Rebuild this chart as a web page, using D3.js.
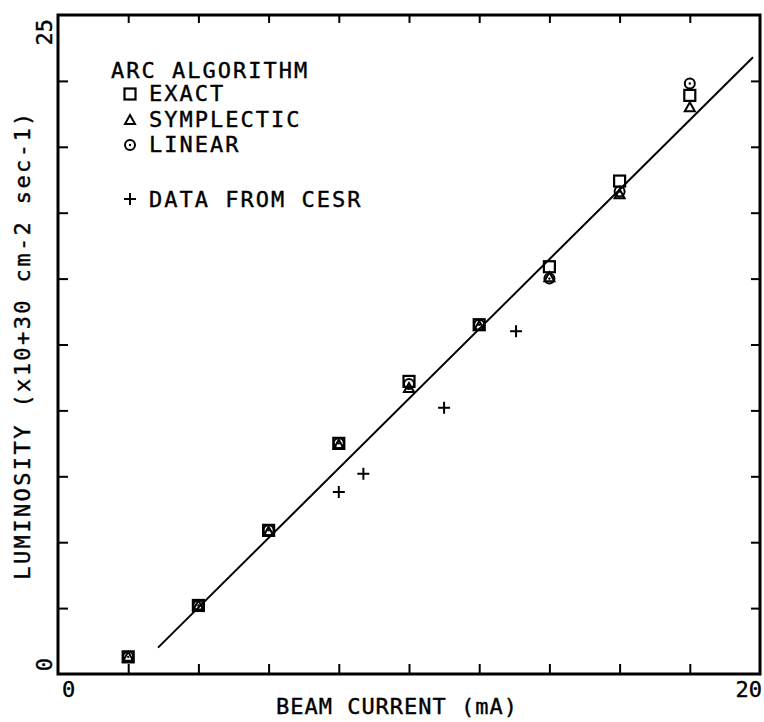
<!DOCTYPE html>
<html>
<head>
<meta charset="utf-8">
<script src="https://cdn.jsdelivr.net/npm/d3@7"></script>
<style>
  html, body { margin: 0; padding: 0; background: #fff; }
  svg { display: block; }
  text { font-family: "DejaVu Sans Mono", monospace; fill: #000; stroke: #000; stroke-width: 0.4; }
</style>
</head>
<body>
<svg id="chart" width="764" height="722"></svg>
<script>
// ---- data ----
const currents = [2, 4, 6, 8, 10, 12, 14, 16, 18];
const exactLum = [0.65, 2.6, 5.45, 8.75, 11.1, 13.25, 15.45, 18.7, 21.95];
const symplecticLum = [0.65, 2.6, 5.4, 8.7, 10.85, 13.2, 15.05, 18.2, 21.5];
const linearLum = [0.65, 2.6, 5.45, 8.75, 11.0, 13.25, 15.0, 18.3, 22.4];
const cesrCurrent = [8.0, 8.7, 11.0, 13.05];
const cesrLum = [6.9, 7.6, 10.1, 13.0];
const fitLine = [[2.85, 1.0], [19.8, 23.4]];
const xTicks = [2, 4, 6, 8, 10, 12, 14, 16, 18];
const yTicks = [2.5, 5, 7.5, 10, 12.5, 15, 17.5, 20, 22.5];
const xTickLabels = [{v: 0, t: "0"}, {v: 20, t: "20"}];
const yTickLabels = [{v: 0, t: "0"}, {v: 25, t: "25"}];
const legendTitle = "ARC ALGORITHM";
const legendItems = ["EXACT", "SYMPLECTIC", "LINEAR"];
const cesrLabel = "DATA FROM CESR";
const xTitle = "BEAM CURRENT (mA)";
const yTitle = "LUMINOSITY (x10+30 cm-2 sec-1)";

// ---- layout ----
const svg = d3.select("#chart");
const x = d3.scaleLinear().domain([0, 20]).range([58, 760]);
const y = d3.scaleLinear().domain([0, 25]).range([674, 15]);
const fs = 22;

// ticks (inward) via d3 axes
const tl = 10;
svg.append("g").attr("transform", `translate(0,${y(0)})`)
  .call(d3.axisBottom(x).tickValues(xTicks).tickSize(-tl).tickFormat(""))
  .call(g => g.select(".domain").remove());
svg.append("g").attr("transform", `translate(0,${y(25)})`)
  .call(d3.axisTop(x).tickValues(xTicks).tickSize(-tl + 2).tickFormat(""))
  .call(g => g.select(".domain").remove());
svg.append("g").attr("transform", `translate(${x(0)},0)`)
  .call(d3.axisLeft(y).tickValues(yTicks).tickSize(-tl).tickFormat(""))
  .call(g => g.select(".domain").remove());
svg.append("g").attr("transform", `translate(${x(20)},0)`)
  .call(d3.axisRight(y).tickValues(yTicks).tickSize(-tl + 1).tickFormat(""))
  .call(g => g.select(".domain").remove());
svg.selectAll(".tick line").attr("stroke", "#000").attr("stroke-width", 2);

// frame
svg.append("rect")
  .attr("x", x(0)).attr("y", y(25))
  .attr("width", x(20) - x(0)).attr("height", y(0) - y(25))
  .attr("fill", "none").attr("stroke", "#000").attr("stroke-width", 3);

// tick labels
svg.selectAll(".xtl").data(xTickLabels).enter().append("text")
  .attr("x", d => d.v === 0 ? x(d.v) + 4 : x(d.v) + 2)
  .attr("y", 697)
  .attr("text-anchor", d => d.v === 0 ? "start" : "end")
  .attr("font-size", fs)
  .text(d => d.t);
svg.selectAll(".ytl").data(yTickLabels).enter().append("text")
  .attr("transform", d => `translate(52,${d.v === 0 ? y(d.v) - 16 : y(d.v) + 4}) rotate(-90)`)
  .attr("text-anchor", "end")
  .attr("font-size", fs)
  .text(d => d.t);

// axis titles
svg.append("text").attr("x", 397).attr("y", 714)
  .attr("text-anchor", "middle").attr("font-size", fs).attr("letter-spacing", 1)
  .text(xTitle);
svg.append("text").attr("transform", "translate(30,345) rotate(-90)")
  .attr("text-anchor", "middle").attr("font-size", fs).attr("letter-spacing", 2.4)
  .text(yTitle);

// fit line
svg.append("path")
  .attr("d", d3.line().x(d => x(d[0])).y(d => y(d[1]))(fitLine))
  .attr("stroke", "#000").attr("stroke-width", 2).attr("fill", "none");

// markers
function square(g, px, py) {
  g.append("rect").attr("x", px - 5.5).attr("y", py - 5.5).attr("width", 11).attr("height", 11)
    .attr("fill", "none").attr("stroke", "#000").attr("stroke-width", 2.2);
}
function triangle(g, px, py) {
  g.append("path").attr("d", `M${px},${py - 5}L${px + 5},${py + 4}L${px - 5},${py + 4}Z`)
    .attr("fill", "none").attr("stroke", "#000").attr("stroke-width", 2);
}
function circle(g, px, py) {
  g.append("circle").attr("cx", px).attr("cy", py).attr("r", 5)
    .attr("fill", "none").attr("stroke", "#000").attr("stroke-width", 2);
  g.append("circle").attr("cx", px).attr("cy", py).attr("r", 1.2).attr("fill", "#000");
}
function plus(g, px, py) {
  g.append("path").attr("d", `M${px - 6},${py}H${px + 6}M${px},${py - 6}V${py + 6}`)
    .attr("stroke", "#000").attr("stroke-width", 2);
}
const gm = svg.append("g");
currents.forEach((c, i) => {
  triangle(gm, x(c), y(symplecticLum[i]));
  circle(gm, x(c), y(linearLum[i]));
  square(gm, x(c), y(exactLum[i]));
});
cesrCurrent.forEach((c, i) => plus(gm, x(c), y(cesrLum[i])));

// legend
const lg = svg.append("g");
lg.append("text").attr("x", 111).attr("y", 78).attr("font-size", fs).attr("letter-spacing", 2)
  .text(legendTitle);
const rowY = [101, 127, 152];
const symFns = [square, triangle, circle];
legendItems.forEach((t, i) => {
  symFns[i](lg, 130, rowY[i] - 7);
  lg.append("text").attr("x", 149).attr("y", rowY[i]).attr("font-size", fs).attr("letter-spacing", 2).text(t);
});
plus(lg, 130, 199);
lg.append("text").attr("x", 149).attr("y", 207).attr("font-size", fs).attr("letter-spacing", 2).text(cesrLabel);
</script>
</body>
</html>
